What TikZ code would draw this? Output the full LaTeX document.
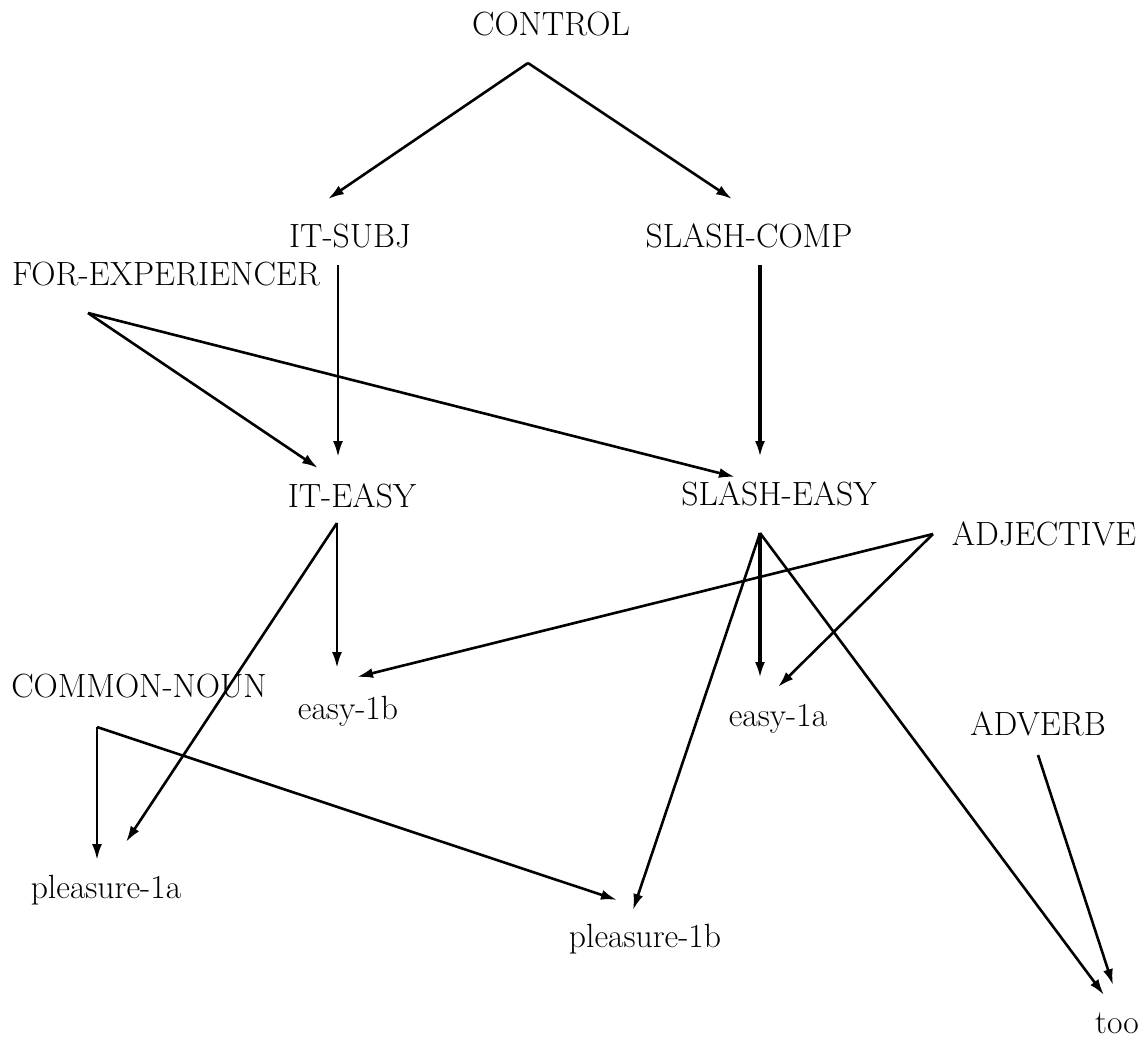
\documentclass[tikz,border=0pt]{standalone}
\usetikzlibrary{arrows.meta}
\begin{document}
\begin{tikzpicture}[x=1pt,y=-1pt,
  lbl/.style={inner sep=0pt, anchor=base, font=\fontsize{33.6}{40}\selectfont},
  conn/.style={line width=2.6pt, -{Latex[length=16pt,width=10pt]}},
  heavyconn/.style={conn, line width=3.6pt}]
\useasboundingbox (0,0) rectangle (1144,1039);
% labels
\node[lbl] (control) at (551,35) {CONTROL};
\node[lbl] (itsubj) at (350,247) {IT-SUBJ};
\node[lbl] (slashcomp) at (749,247) {SLASH-COMP};
\node[lbl] (forexp) at (166,285) {FOR-EXPERIENCER};
\node[lbl] (iteasy) at (352,507) {IT-EASY};
\node[lbl] (slasheasy) at (779,505) {SLASH-EASY};
\node[lbl] (adjective) at (1044,545) {ADJECTIVE};
\node[lbl] (commonnoun) at (139,697) {COMMON-NOUN};
\node[lbl] (easyb) at (348,719) {easy-1b};
\node[lbl] (easya) at (778,726) {easy-1a};
\node[lbl] (adverb) at (1038,735) {ADVERB};
\node[lbl] (pleasa) at (106,898) {pleasure-1a};
\node[lbl] (pleasb) at (645,947) {pleasure-1b};
\node[lbl] (too) at (1117,1033) {too};
% ports
\coordinate (control-out) at (528,63);
\coordinate (itsubj-in) at (328,199);
\coordinate (slashcomp-in) at (732,199);
\coordinate (itsubj-out) at (338,265);
\coordinate (slashcomp-out) at (760,265);
\coordinate (forexp-out) at (88,313);
\coordinate (iteasy-in1) at (338,457);
\coordinate (iteasy-in2) at (318,468);
\coordinate (slasheasy-in1) at (760,457);
\coordinate (slasheasy-in2) at (735,477);
\coordinate (iteasy-out) at (337,523);
\coordinate (slasheasy-out) at (760,533);
\coordinate (adjective-out) at (933,534);
\coordinate (easyb-in1) at (337,668);
\coordinate (easyb-in2) at (357,677);
\coordinate (easya-in1) at (760,678);
\coordinate (easya-in2) at (778,687);
\coordinate (commonnoun-out) at (97,727);
\coordinate (pleasa-in1) at (97,860);
\coordinate (pleasa-in2) at (126,842);
\coordinate (pleasb-in1) at (617,900);
\coordinate (pleasb-in2) at (633,910);
\coordinate (adverb-out) at (1038,755);
\coordinate (too-in1) at (1104,995);
\coordinate (too-in2) at (1113,985);
% connectors
\draw[conn] (control-out) -- (itsubj-in);
\draw[conn] (control-out) -- (slashcomp-in);
\draw[conn] (itsubj-out) -- (iteasy-in1);
\draw[heavyconn] (slashcomp-out) -- (slasheasy-in1);
\draw[conn] (forexp-out) -- (iteasy-in2);
\draw[conn] (forexp-out) -- (slasheasy-in2);
\draw[conn] (iteasy-out) -- (easyb-in1);
\draw[conn] (iteasy-out) -- (pleasa-in2);
\draw[heavyconn] (slasheasy-out) -- (easya-in1);
\draw[conn] (slasheasy-out) -- (pleasb-in2);
\draw[conn] (slasheasy-out) -- (too-in1);
\draw[conn] (adjective-out) -- (easyb-in2);
\draw[conn] (adjective-out) -- (easya-in2);
\draw[conn] (commonnoun-out) -- (pleasa-in1);
\draw[conn] (commonnoun-out) -- (pleasb-in1);
\draw[conn] (adverb-out) -- (too-in2);
\end{tikzpicture}
\end{document}
